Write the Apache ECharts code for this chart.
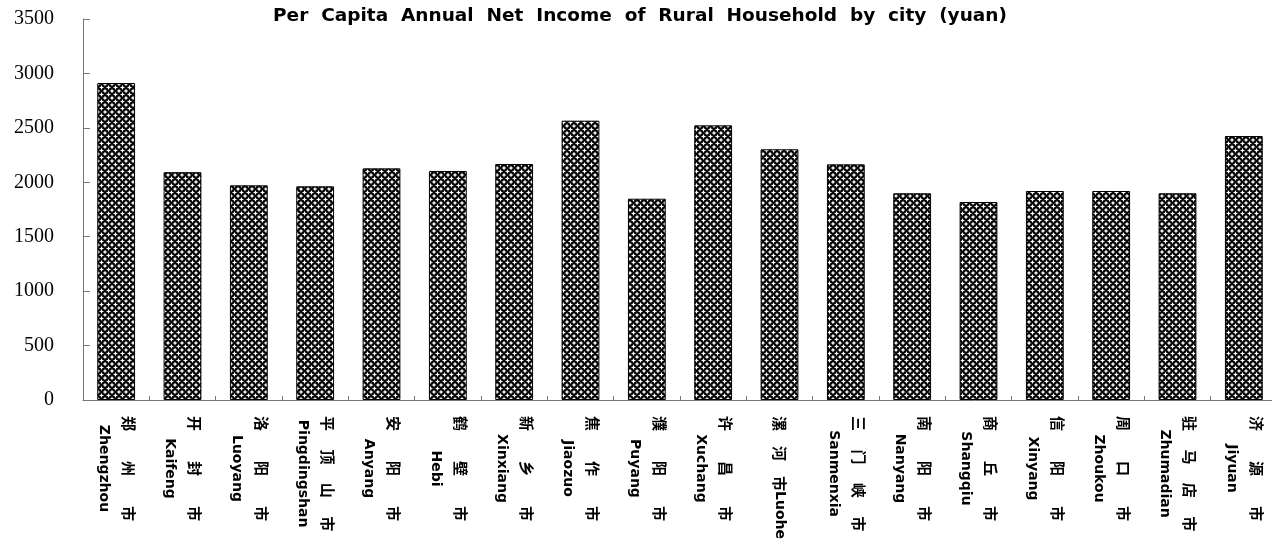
<!DOCTYPE html>
<html>
<head>
<meta charset="utf-8">
<script src="https://cdn.jsdelivr.net/npm/echarts@6/dist/echarts.min.js"></script>
<style>
  html, body { margin: 0; padding: 0; background: #fff; }
  #chart { width: 1272px; height: 549px; }
</style>
</head>
<body>
<div id="chart"></div>
<script>
// City names (Chinese and pinyin) and per capita net income, yuan
const cityZh = ['郑州市', '开封市', '洛阳市', '平顶山市', '安阳市', '鹤壁市', '新乡市', '焦作市', '濮阳市',
  '许昌市', '漯河市', '三门峡市', '南阳市', '商丘市', '信阳市', '周口市', '驻马店市', '济源市'];
const cityEn = ['Zhengzhou', 'Kaifeng', 'Luoyang', 'Pingdingshan', 'Anyang', 'Hebi', 'Xinxiang', 'Jiaozuo', 'Puyang',
  'Xuchang', 'Luohe', 'Sanmenxia', 'Nanyang', 'Shangqiu', 'Xinyang', 'Zhoukou', 'Zhumadian', 'Jiyuan'];
const income = [2912, 2093, 1972, 1963, 2128, 2104, 2168, 2566, 1849,
  2523, 2303, 2165, 1899, 1819, 1920, 1920, 1899, 2425];
// pinyin written on the same line as the Chinese name
const inlineEn = ['Luohe'];
const yTicks = { min: 0, max: 3500, step: 500 };
const titleText = 'Per  Capita  Annual  Net  Income  of  Rural  Household  by  city  (yuan)';

// black cross-hatch fill with white four-point stars
function hatchPattern() {
  const P = 7;
  const c = document.createElement('canvas');
  c.width = P; c.height = P;
  const g = c.getContext('2d');
  g.fillStyle = '#000';
  g.fillRect(0, 0, P, P);
  g.fillStyle = '#fff';
  const star = (cx, cy) => {
    const r = 2.6, w = 0.75;
    g.beginPath();
    g.moveTo(cx, cy - r);
    g.lineTo(cx + w, cy - w);
    g.lineTo(cx + r, cy);
    g.lineTo(cx + w, cy + w);
    g.lineTo(cx, cy + r);
    g.lineTo(cx - w, cy + w);
    g.lineTo(cx - r, cy);
    g.lineTo(cx - w, cy - w);
    g.closePath();
    g.fill();
  };
  [[0, 0], [P, 0], [0, P], [P, P], [P / 2, P / 2]].forEach(p => star(p[0], p[1]));
  return c;
}

function spacedZh(name, inline) {
  let gap = '\u3000\u3000';
  if (inline) gap = '\u3000';
  else if (name.length >= 4) gap = '\u3000 ';
  return name.split('').join(gap);
}

const chart = echarts.init(document.getElementById('chart'), null, { renderer: 'canvas' });
chart.setOption({
  animation: false,
  backgroundColor: '#fff',
  title: {
    text: titleText,
    left: 635,
    textAlign: 'center',
    top: 2,
    textStyle: { fontFamily: 'DejaVu Sans', fontWeight: 'bold', fontSize: 18.5, color: '#000' }
  },
  grid: { left: 83, top: 19, width: 1194, height: 381, containLabel: false, outerBoundsMode: 'none' },
  xAxis: {
    type: 'category',
    data: cityEn,
    axisLine: { lineStyle: { color: '#777', width: 1 } },
    axisTick: { show: true, inside: true, length: 4, lineStyle: { color: '#777' } },
    axisLabel: {
      interval: 0,
      rotate: -90,
      margin: 16,
      color: '#000',
      hideOverlap: false,
      formatter: (en, idx) => {
        const inline = inlineEn.indexOf(en) >= 0;
        const zh = spacedZh(cityZh[idx], inline);
        if (inline) return '{zh|' + zh + '}{en|' + en + '}';
        return '{zh|' + zh + '}\n{en|' + en + '}';
      },
      rich: {
        zh: { fontFamily: 'Noto Sans CJK SC', fontWeight: 'bold', fontSize: 15, lineHeight: 25, align: 'center', color: '#000' },
        en: { fontFamily: 'DejaVu Sans', fontWeight: 'bold', fontSize: 14, lineHeight: 25, align: 'center', color: '#000' }
      }
    }
  },
  yAxis: {
    type: 'value',
    min: yTicks.min,
    max: yTicks.max,
    interval: yTicks.step,
    axisLine: { show: true, lineStyle: { color: '#777', width: 1 } },
    axisTick: { show: true, inside: true, length: 7, lineStyle: { color: '#777' } },
    splitLine: { show: false },
    axisLabel: {
      color: '#000',
      margin: 29,
      formatter: v => '{n|' + v + '}',
      rich: {
        n: { fontFamily: 'Liberation Serif', fontSize: 20, color: '#000' }
      }
    }
  },
  series: [{
    type: 'bar',
    data: income,
    barCategoryGap: '43%',
    itemStyle: {
      color: { image: hatchPattern(), repeat: 'repeat' },
      borderColor: '#000',
      borderWidth: 1
    }
  }]
});
</script>
</body>
</html>
